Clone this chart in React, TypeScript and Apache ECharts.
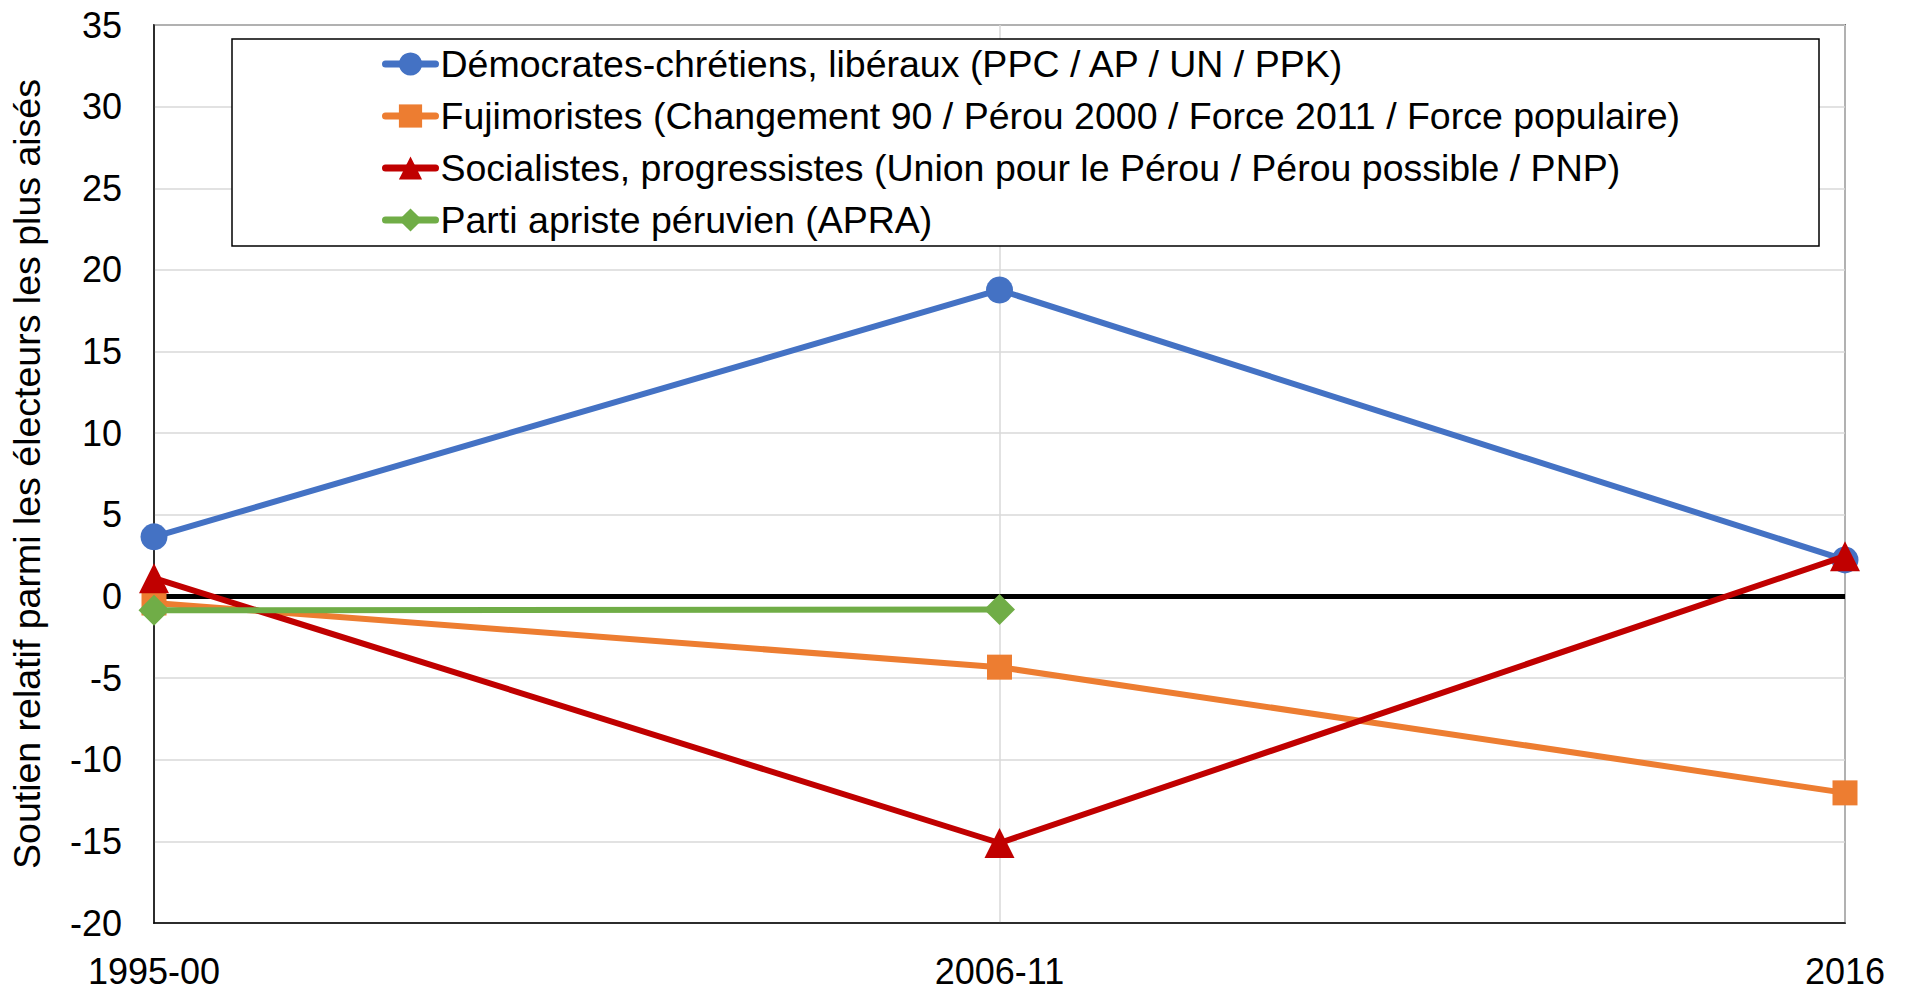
import React, { useEffect, useRef } from "react";
import * as echarts from "echarts";

const categories = ["1995-00", "2006-11", "2016"];
const seriesNames = [
  "Démocrates-chrétiens, libéraux (PPC / AP / UN / PPK)",
  "Fujimoristes (Changement 90 / Pérou 2000 / Force 2011 / Force populaire)",
  "Socialistes, progressistes (Union pour le Pérou / Pérou possible / PNP)",
  "Parti apriste péruvien (APRA)",
];
const democrates = [3.65, 18.77, 2.24];
const fujimoristes = [-0.4, -4.33, -12.03];
const socialistes = [1.12, -15.1, 2.47];
const apra = [-0.85, -0.8, null];
const yTicks = { min: -20, max: 35, interval: 5 };
const yAxisName = "Soutien relatif parmi les électeurs les plus aisés";

const colors = ["#4472C4", "#ED7D31", "#C00000", "#70AD47"];
const symbols = ["circle", "rect", "triangle", "diamond"];
const symbolSizes = [27, 25, 30, 31];
const FONT = "'Liberation Sans', Arial, sans-serif";

export default function App() {
  const ref = useRef<HTMLDivElement>(null);
  useEffect(() => {
    if (!ref.current) return;
    const chart = echarts.init(ref.current, null, { renderer: "svg" });
    const datasets = [democrates, fujimoristes, socialistes, apra];
    chart.setOption({
      animation: false,
      backgroundColor: "#fff",
      grid: {
        left: 153,
        right: 60,
        top: 25,
        bottom: 70,
        show: true,
        borderColor: "#000",
        borderWidth: 1.5,
      },
      xAxis: {
        type: "category",
        data: categories,
        boundaryGap: false,
        axisLine: { onZero: false, lineStyle: { color: "#000", width: 1.5 } },
        axisTick: { show: false },
        axisLabel: {
          color: "#000",
          fontSize: 36,
          fontFamily: FONT,
          margin: 30,
          lineHeight: 36,
        },
        splitLine: { show: true, lineStyle: { color: "#d9d9d9", width: 1.5 } },
      },
      yAxis: {
        type: "value",
        min: yTicks.min,
        max: yTicks.max,
        interval: yTicks.interval,
        name: yAxisName,
        nameLocation: "middle",
        nameGap: 108,
        nameTextStyle: { color: "#000", fontSize: 37.5, fontFamily: FONT },
        axisLine: { show: true, onZero: false, lineStyle: { color: "#000", width: 1.5 } },
        axisTick: { show: false },
        axisLabel: { color: "#000", fontSize: 36, fontFamily: FONT, margin: 32 },
        splitLine: { show: true, lineStyle: { color: "#d9d9d9", width: 1.5 } },
      },
      legend: {
        orient: "vertical",
        left: 382,
        top: 44,
        padding: 0,
        itemWidth: 50,
        itemHeight: 29,
        itemGap: 12,
        lineStyle: { width: 7, cap: "round" },
        textStyle: { color: "#000", fontSize: 37.5, fontFamily: FONT, lineHeight: 40 },
        z: 10,
      },
      graphic: [
        {
          type: "rect",
          z: 5,
          shape: { x: 232, y: 39, width: 1587, height: 207 },
          style: { fill: "#fff", stroke: "#000", lineWidth: 1.5 },
        },
      ],
      series: datasets.map((d, i) => ({
        name: seriesNames[i],
        type: "line",
        data: d,
        symbol: symbols[i],
        symbolSize: symbolSizes[i],
        showSymbol: true,
        connectNulls: false,
        z: 3 + i,
        lineStyle: { color: colors[i], width: 6 },
        itemStyle: { color: colors[i] },
        markLine:
          i === 0
            ? {
                silent: true,
                symbol: "none",
                label: { show: false },
                lineStyle: { color: "#000", width: 5, type: "solid" },
                data: [{ yAxis: 0 }],
                z: 1,
              }
            : undefined,
      })),
    });
    return () => chart.dispose();
  }, []);
  return (
    <div
      ref={ref}
      style={{ position: "fixed", left: 0, top: 0, width: 1905, height: 993 }}
    />
  );
}
